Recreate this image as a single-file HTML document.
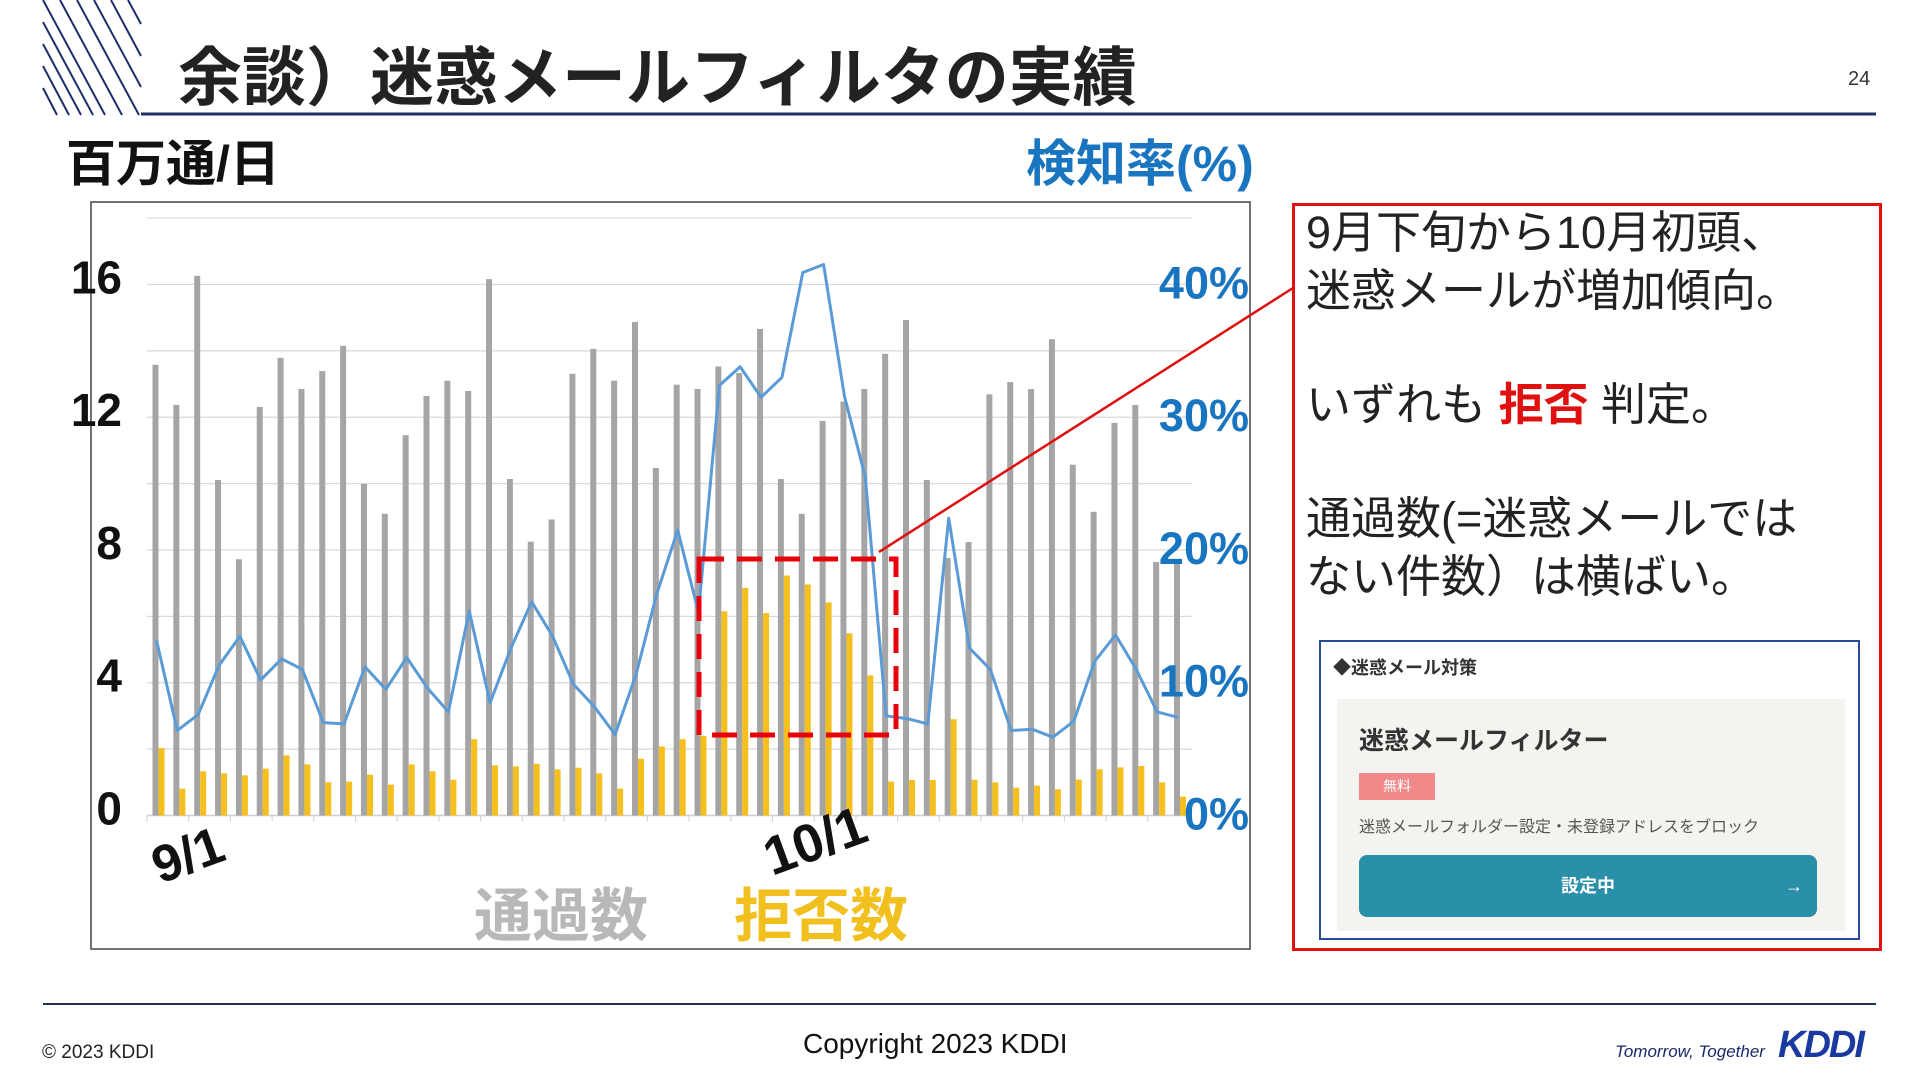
<!DOCTYPE html>
<html><head><meta charset="utf-8">
<style>
html,body{margin:0;padding:0;width:1920px;height:1080px;background:#fff;overflow:hidden;font-family:"Liberation Sans","Noto Sans CJK JP",sans-serif;}
.abs{position:absolute;}
</style></head>
<body>
<div style="position:relative;width:1920px;height:1080px;">
<svg class="abs" style="left:0;top:0" width="1920" height="1080">
  <g stroke="#1f2f6b" stroke-width="2">
    <line x1="43" y1="0" x2="105" y2="115"/><line x1="43" y1="22" x2="93" y2="115"/>
    <line x1="43" y1="44" x2="81" y2="115"/><line x1="43" y1="66" x2="69" y2="115"/>
    <line x1="43" y1="88" x2="57" y2="115"/><line x1="60" y1="0" x2="122" y2="115"/>
    <line x1="77" y1="0" x2="139" y2="115"/><line x1="94" y1="0" x2="141" y2="87"/>
    <line x1="111" y1="0" x2="141" y2="56"/><line x1="128" y1="0" x2="141" y2="24"/>
  </g>
  <line x1="141" y1="114" x2="1876" y2="114" stroke="#1f2f6b" stroke-width="3"/>
  <line x1="43" y1="1004" x2="1876" y2="1004" stroke="#1f3350" stroke-width="2"/>
</svg>

<div class="abs" style="left:178px;top:38px;font-size:64px;font-weight:bold;color:#222;letter-spacing:0px;line-height:80px;font-family:'Liberation Sans','Noto Sans CJK JP',sans-serif;">余談）迷惑メールフィルタの実績</div>
<div class="abs" style="left:1848px;top:68px;font-size:20px;color:#333;">24</div>

<div class="abs" style="left:66px;top:134px;font-size:50px;font-weight:bold;color:#111;line-height:60px;">百万通/日</div>
<div class="abs" style="left:1026px;top:134px;font-size:50px;font-weight:bold;color:#1a75c0;line-height:60px;">検知率(%)</div>

<svg class="abs" id="chart" style="left:0;top:0" width="1920" height="1080"></svg>

<div class="abs" style="left:1292px;top:203px;width:584px;height:742px;border:3px solid #e01010;"></div>
<div class="abs" style="left:1306px;top:204px;font-size:45px;line-height:58px;color:#222;">
  <div>9月下旬から10月初頭、</div>
  <div>迷惑メールが増加傾向。</div>
  <div style="height:56px"></div>
  <div>いずれも <span style="color:#e01010;font-weight:bold;">拒否</span> 判定。</div>
  <div style="height:56px"></div>
  <div>通過数(=迷惑メールでは</div>
  <div>ない件数）は横ばい。</div>
</div>

<div class="abs" style="left:1319px;top:640px;width:537px;height:296px;border:2px solid #2a4a9a;background:#fff;">
  <div class="abs" style="left:12px;top:12px;font-size:18px;font-weight:bold;color:#333;">◆迷惑メール対策</div>
  <div class="abs" style="left:16px;top:57px;width:508px;height:232px;background:#f5f3ef;">
    <div class="abs" style="left:22px;top:22px;font-size:25px;font-weight:bold;color:#333;">迷惑メールフィルター</div>
    <div class="abs" style="left:22px;top:74px;width:76px;height:27px;background:#f08a8a;color:#fff;font-size:14px;text-align:center;line-height:27px;">無料</div>
    <div class="abs" style="left:22px;top:114px;font-size:16px;color:#555;">迷惑メールフォルダー設定・未登録アドレスをブロック</div>
    <div class="abs" style="left:22px;top:156px;width:458px;height:62px;background:#2a8fa8;border-radius:8px;color:#fff;font-size:18px;font-weight:bold;line-height:62px;text-align:center;">設定中<span style="position:absolute;right:14px;">→</span></div>
  </div>
</div>

<div class="abs" style="left:42px;top:1042px;font-size:19px;color:#222;">© 2023 KDDI</div>
<div class="abs" style="left:803px;top:1028px;font-size:28px;color:#111;">Copyright 2023 KDDI</div>
<div class="abs" style="left:1615px;top:1042px;font-size:17px;font-style:italic;color:#1a2a6b;">Tomorrow, Together</div>
<div class="abs" style="left:1778px;top:1024px;font-size:38px;font-weight:900;font-style:italic;color:#1a3aa0;letter-spacing:-2px;">KDDI</div>
</div>

<script>
const passed = [13.58,12.37,16.26,10.11,7.72,12.31,13.79,12.85,13.39,14.15,9.99,9.09,11.46,12.64,13.10,12.79,16.16,10.14,8.25,8.92,13.31,14.06,13.10,14.87,10.47,12.98,12.85,13.53,13.33,14.66,10.14,9.09,11.89,12.47,12.85,13.91,14.93,10.11,7.76,8.24,12.69,13.06,12.85,14.35,10.57,9.15,11.83,12.37,7.64,7.70];
const rejected = [2.03,0.81,1.33,1.27,1.21,1.41,1.81,1.54,1.0,1.02,1.23,0.93,1.54,1.33,1.08,2.30,1.51,1.48,1.56,1.39,1.44,1.27,0.81,1.71,2.08,2.30,2.40,6.15,6.86,6.10,7.23,6.96,6.42,5.49,4.22,1.02,1.07,1.07,2.90,1.08,1.0,0.84,0.90,0.79,1.08,1.39,1.45,1.49,1.0,0.57];
const detectRate = [13.2,6.4,7.6,11.3,13.5,10.2,11.8,11.0,7.0,6.9,11.2,9.5,11.9,9.6,7.8,15.4,8.5,12.6,16.1,13.5,9.9,8.2,6.1,10.6,16.7,21.5,15.3,32.4,33.8,31.5,33.0,40.9,41.5,31.6,25.5,7.5,7.3,6.9,22.4,12.6,11.0,6.4,6.5,5.9,7.1,11.6,13.6,11.0,7.8,7.4];
const leftTicks = ["0","4","8","12","16"];
const leftTickValues = [0,4,8,12,16];
const rightTicks = ["0%","10%","20%","30%","40%"];
const rightTickValues = [0,10,20,30,40];

const svg = document.getElementById('chart');
const NS = 'http://www.w3.org/2000/svg';
const y0 = 815.5, unit = 33.19;
function yL(v){ return y0 - v*unit; }
function yR(p){ return y0 - p*unit*0.4; }
const x0 = 155.5, step = (1177-155.5)/49;
function xC(i){ return x0 + i*step; }
function mk(tag, attrs){ const e=document.createElementNS(NS,tag); for(const k in attrs) e.setAttribute(k,attrs[k]); svg.appendChild(e); return e; }

const frame = mk('rect',{x:91,y:202,width:1159,height:747,fill:'none',stroke:'#444','stroke-width':1.5});



for(let v=0; v<=18; v+=2){
  const g = mk('line',{x1:147,x2:1192,y1:yL(v),y2:yL(v),stroke:'#d9d9d9','stroke-width':1.2});
  
  
}
const ax = mk('line',{x1:147,x2:1192,y1:y0,y2:y0,stroke:'#d0d0d0','stroke-width':1.5});


for(let i=0;i<=25;i++){
  const t = mk('line',{x1:147+i*41.7,x2:147+i*41.7,y1:y0,y2:y0+6,stroke:'#d0d0d0','stroke-width':1});
  
  
}

passed.forEach((v,i)=>{
  const r = mk('rect',{x:xC(i)-3,y:yL(v),width:6,height:y0-yL(v),fill:'#a5a5a5'});
  
  
});
rejected.forEach((v,i)=>{
  const r = mk('rect',{x:xC(i)+3,y:yL(v),width:6,height:y0-yL(v),fill:'#f5bf1e'});
  
  
});
const pts = detectRate.map((p,i)=> (xC(i)+1).toFixed(1)+','+yR(p).toFixed(1)).join(' ');
const line = mk('polyline',{points:pts,fill:'none',stroke:'#5b9bd5','stroke-width':3,'stroke-linejoin':'round'});



leftTicks.forEach((t,i)=>{
  const e = mk('text',{x:122,y:yL(leftTickValues[i])+9,'text-anchor':'end','font-size':46,'font-weight':'bold',fill:'#111','font-family':'Liberation Sans, sans-serif'});
  e.textContent = t;
  
  
});
rightTicks.forEach((t,i)=>{
  const e = mk('text',{x:1249,y:yR(rightTickValues[i])+14,'text-anchor':'end','font-size':45,'font-weight':'bold',fill:'#1a75c0','font-family':'Liberation Sans, sans-serif'});
  e.textContent = t;
  
  
});

const l1 = mk('text',{x:160,y:884,'font-size':52,'font-weight':'bold',fill:'#111',transform:'rotate(-20 160 884)','font-family':'Liberation Sans, sans-serif'});
l1.textContent='9/1';


const l2 = mk('text',{x:772,y:876,'font-size':54,'font-weight':'bold',fill:'#111',transform:'rotate(-20 772 876)','font-family':'Liberation Sans, sans-serif'});
l2.textContent='10/1';



const lg1 = mk('text',{x:474,y:936,'font-size':58,'font-weight':'bold',fill:'#b8b8b8','font-family':'Liberation Sans, Noto Sans CJK JP, sans-serif'});
lg1.textContent='通過数';


const lg2 = mk('text',{x:734,y:936,'font-size':58,'font-weight':'bold',fill:'#f2c01e','font-family':'Liberation Sans, Noto Sans CJK JP, sans-serif'});
lg2.textContent='拒否数';



const hl = mk('rect',{x:699,y:559,width:197,height:176,fill:'none',stroke:'#e8000b','stroke-width':5,'stroke-dasharray':'25 13'});


const cl = mk('line',{x1:879,y1:552,x2:1293,y2:288,stroke:'#e01010','stroke-width':2.5});


</script>
</body></html>
